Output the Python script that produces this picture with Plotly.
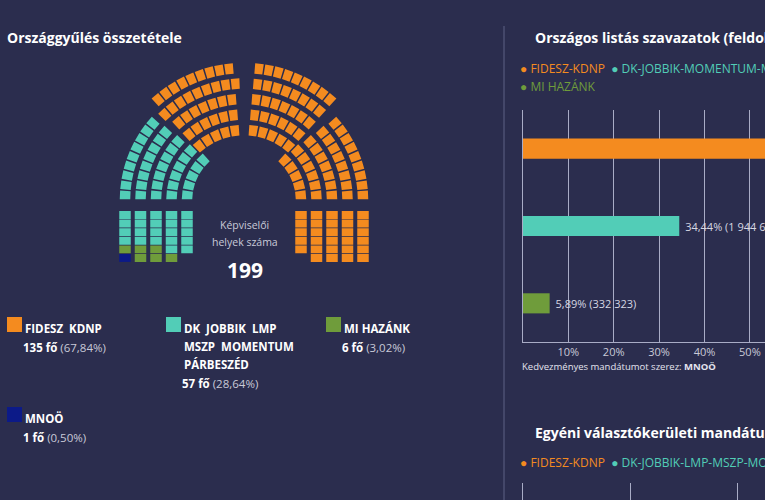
import math
import plotly.graph_objects as go

# ---------------- data ----------------
seat_parties = ["FIDESZ  KDNP", "DK  JOBBIK  LMP  MSZP  MOMENTUM  PÁRBESZÉD", "MI HAZÁNK", "MNOÖ"]
seat_name_lines = [["FIDESZ\u00a0\u00a0KDNP"], ["DK\u00a0\u00a0JOBBIK\u00a0\u00a0LMP", "MSZP\u00a0\u00a0MOMENTUM", "PÁRBESZÉD"],
                   ["MI HAZÁNK"], ["MNOÖ"]]
seat_counts = [135, 57, 6, 1]
seat_colors = ["#f48b1f", "#52cdb7", "#6f9c3b", "#0c1a88"]
fill_order = [3, 2, 1, 0]          # seats are filled from the bottom-left block

list_parties = ["FIDESZ-KDNP", "DK-JOBBIK-MOMENTUM-MSZP-LMP-PÁRBESZÉD", "MI HAZÁNK"]
list_pct = [54.10, 34.44, 5.89]
list_votes = [3053482, 1944628, 332323]
list_colors = ["#f48b1f", "#52cdb7", "#6f9c3b"]
pct_ticks = [10, 20, 30, 40, 50]
pct_tick_labels = ["10%", "20%", "30%", "40%", "50%"]
preferential_mandate = "MNOÖ"

smd_parties = ["FIDESZ-KDNP", "DK-JOBBIK-LMP-MSZP-MOMENTUM-PÁRBESZÉD"]
smd_colors = ["#f48b1f", "#52cdb7"]

# ---------------- style ----------------
W, H = 765, 500
BG = "#2b2d4e"
GRID = "#a9acc6"
FONT = "Open Sans"
TXT = "#ffffff"
SUB = "#c9cad8"


def fmt_pct(v):
    return f"{v:.2f}".replace(".", ",") + "%"


def fmt_int(n):
    return f"{n:,}".replace(",", " ")


# ---------------- parliament geometry (pixel space) ----------------
CX, CY = 244, 200
R0, RP = 57, 15.5
TP = 9.8
CELL_T, CELL_R = 8.3, 10.5
WEDGE_OFF = 13
side_rings = [5, 6, 7, 8, 9]          # inner -> outer
wedge_rings_l = [5, 6, 7, 9, 9]
wedge_rings_r = [5, 6, 7, 8, 9]
rect_cols = [5, 6, 6, 6, 6]           # inner -> outer
RECT_TOP, RECT_P, RECT_H, RECT_W = 211, 8.6, 7.9, 11.5
radii = [R0 + k * RP for k in range(5)]


def arc_cell(r, th):
    dt = (CELL_T / 2) / r
    pts = []
    for rr, a in [(r - CELL_R / 2, th - dt), (r - CELL_R / 2, th + dt),
                  (r + CELL_R / 2, th + dt), (r + CELL_R / 2, th - dt)]:
        pts.append((CX + rr * math.cos(a), CY - rr * math.sin(a)))
    return pts


def rect_cell(xc, ytop):
    return [(xc - RECT_W / 2, ytop), (xc + RECT_W / 2, ytop),
            (xc + RECT_W / 2, ytop + RECT_H), (xc - RECT_W / 2, ytop + RECT_H)]


def rect_block(side):
    cells = []
    for k, n in enumerate(rect_cols):
        xc = CX + side * radii[k]
        for j in range(n):
            cells.append((j, k, rect_cell(xc, RECT_TOP + j * RECT_P)))
    cells.sort(key=lambda c: (-c[0], -c[1]))
    return [c[2] for c in cells]


def side_arcs(side):
    cells = []
    for k, n in enumerate(side_rings):
        r = radii[k]
        for i in range(n):
            d = (TP / 2 + i * TP) / r
            th = math.pi - d if side < 0 else d
            cells.append(arc_cell(r, th))
    return cells


def wedge(rings, mid_deg):
    cells = []
    mid = math.radians(mid_deg)
    for k, n in enumerate(rings):
        r = radii[k] + WEDGE_OFF
        for i in range(n):
            th = mid + (i - (n - 1) / 2) * TP / r
            cells.append(arc_cell(r, th))
    return cells


slots = rect_block(-1) + side_arcs(-1) + wedge(wedge_rings_l, 113.5) + \
    wedge(wedge_rings_r, 66.5) + side_arcs(1) + rect_block(1)

fig = go.Figure()

pos = 0
for pi in fill_order:
    xs, ys = [], []
    for poly in slots[pos:pos + seat_counts[pi]]:
        for (x, y) in poly + [poly[0]]:
            xs.append(x)
            ys.append(y)
        xs.append(None)
        ys.append(None)
    pos += seat_counts[pi]
    fig.add_trace(go.Scatter(x=xs, y=ys, mode="lines", fill="toself",
                             fillcolor=seat_colors[pi], line=dict(width=0, color=seat_colors[pi]),
                             hoverinfo="skip", showlegend=False, xaxis="x2", yaxis="y2"))

# ---------------- list votes bar chart ----------------
fig.add_trace(go.Bar(
    y=list_parties, x=list_pct, orientation="h",
    marker=dict(color=list_colors, line=dict(width=0)),
    text=[f"\u00a0{fmt_pct(p)} ({fmt_int(v)})" for p, v in zip(list_pct, list_votes)],
    textposition="outside", textfont=dict(family=FONT, size=11, color="#d6d7e2"),
    constraintext="none", cliponaxis=True, hoverinfo="skip", showlegend=False,
    xaxis="x", yaxis="y"))

fig.add_trace(go.Scatter(x=[None], y=[None], xaxis="x3", yaxis="y3", showlegend=False, hoverinfo="skip"))

X0 = 522.9
PXPCT = 4.54
fig.update_layout(
    width=W, height=H, margin=dict(l=0, r=0, t=0, b=0),
    paper_bgcolor=BG, plot_bgcolor="rgba(0,0,0,0)",
    font=dict(family=FONT, color=TXT),
    bargap=0.74,
    xaxis=dict(domain=[X0 / W, 1], range=[0, (W - X0) / PXPCT], tickvals=pct_ticks, ticktext=pct_tick_labels,
               showgrid=True, gridcolor=GRID, gridwidth=1, showline=True, linecolor=GRID, linewidth=1,
               zeroline=False, ticks="", tickfont=dict(family=FONT, size=11, color="#c9cad8"), anchor="y",
               fixedrange=True),
    yaxis=dict(domain=[1 - 342 / H, 1 - 110 / H], autorange="reversed", showticklabels=False, showgrid=False,
               showline=True, linecolor=GRID, linewidth=1, zeroline=False, ticks="", anchor="x", fixedrange=True),
    xaxis2=dict(domain=[0, 1], range=[0, W], visible=False, anchor="y2", fixedrange=True),
    yaxis2=dict(domain=[0, 1], range=[H, 0], visible=False, anchor="x2", fixedrange=True),
    xaxis3=dict(domain=[X0 / W, 1], range=[0, 45.2], tickvals=[20, 40], showticklabels=False, showgrid=True,
                gridcolor=GRID, showline=False, zeroline=False, ticks="", anchor="y3", fixedrange=True),
    yaxis3=dict(domain=[0, 17 / H], range=[0, 1], showticklabels=False, showgrid=False, showline=True,
                linecolor=GRID, zeroline=False, ticks="", anchor="x3", fixedrange=True),
)


def P(x, y):
    return x / W, 1 - y / H


annotations = []


def ann(text, x, y, size, color=TXT, xanchor="left"):
    px, py = P(x, y)
    annotations.append(dict(text=text, x=px, y=py, xref="paper", yref="paper", xanchor=xanchor,
                            yanchor="middle", showarrow=False, font=dict(family=FONT, size=size, color=color)))


# titles
ann("<b>Országgyűlés összetétele</b>", 5, 38, 14)
ann("<b>Országos listás szavazatok (feldolgozottság: 98,96%)</b>", 533, 38, 14)
ann("<b>Egyéni választókerületi mandátumok</b>", 533, 432, 14)


def legend_line(names, colors):
    return "  ".join(f"<span style='color:{c}'>●</span> <span style='color:{c}'>{n}</span>"
                     for n, c in zip(names, colors))


ann(legend_line(list_parties[:2], list_colors[:2]), 518, 68, 12)
ann(legend_line(list_parties[2:], list_colors[2:]), 518, 87, 12)
ann(legend_line(smd_parties, smd_colors), 518, 462, 12)
ann(f"Kedvezményes mandátumot szerez: <b>{preferential_mandate}</b>", 520, 366, 9.5, "#e4e4ee")

# centre text
ann("Képviselői", CX + 1, 225, 10.5, SUB, "center")
ann("helyek száma", CX + 1, 242, 10.5, SUB, "center")
ann(f"<b>{sum(seat_counts)}</b>", CX + 1, 270, 21, TXT, "center")

# seat legend
total = sum(seat_counts)
legend_pos = [(7, 317), (166, 317), (326, 317), (7, 407)]
shapes = []
for i, (lx, ly) in enumerate(legend_pos):
    x0, y0 = P(lx, ly)
    x1, y1 = P(lx + 15, ly + 15)
    shapes.append(dict(type="rect", xref="paper", yref="paper", x0=x0, x1=x1, y0=y1, y1=y0,
                       fillcolor=seat_colors[i], line=dict(width=0)))
    yy = ly + 11
    for line in seat_name_lines[i]:
        ann(f"<b>{line}</b>", lx + 16, yy, 11.5)
        yy += 18
    ann(f"<b>{seat_counts[i]} fő</b> <span style='color:{SUB}'>({fmt_pct(100 * seat_counts[i] / total)})</span>",
        lx + 14, yy + 1, 11.5)

# divider
shapes.append(dict(type="line", xref="paper", yref="paper", x0=504 / W, x1=504 / W, y0=0, y1=1 - 26 / H,
                   line=dict(color="#5f6285", width=1)))

fig.update_layout(annotations=annotations, shapes=shapes)
fig.write_html("out.html")
